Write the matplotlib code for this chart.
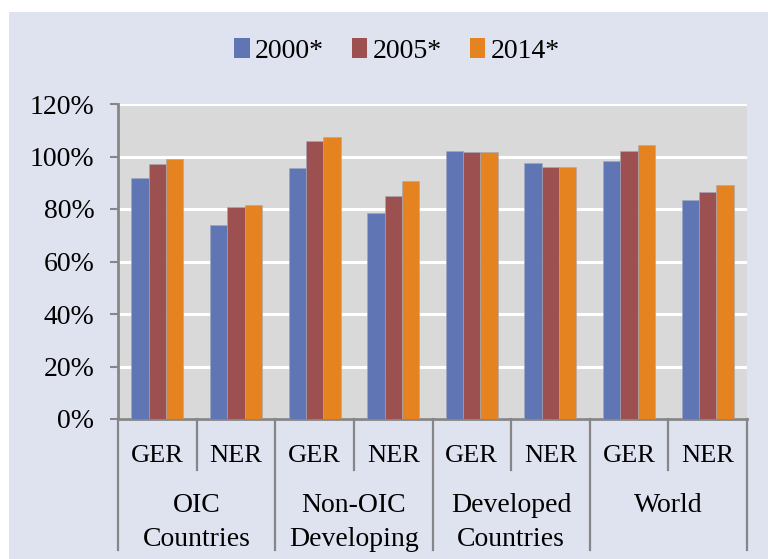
import matplotlib
matplotlib.use("Agg")
import matplotlib.pyplot as plt
from matplotlib.patches import Rectangle, Patch
import numpy as np

groups = ["OIC\nCountries", "Non-OIC\nDeveloping", "Developed\nCountries", "World"]
subcats = ["GER", "NER"] * 4
series_names = ["2000*", "2005*", "2014*"]
v2000 = [91.7, 74.0, 95.5, 78.4, 102.2, 97.4, 98.3, 83.3]
v2005 = [97.3, 80.6, 106.0, 85.0, 101.7, 95.9, 102.0, 86.6]
v2014 = [98.9, 81.5, 107.4, 90.7, 101.7, 95.9, 104.4, 89.0]
yticks = [0, 20, 40, 60, 80, 100, 120]

colors = ["#6076b4", "#9c5050", "#e58321"]
bg = "#dfe3f0"
plotbg = "#d9d9d9"
axcol = "#868686"

plt.rcParams["font.family"] = ["Liberation Serif", "DejaVu Serif"]
W, H = 768, 559
fig = plt.figure(figsize=(W / 100, H / 100), dpi=100, facecolor="white")
fig.patches.append(Rectangle((9 / W, 0), 1 - 9 / W, 1 - 12 / H, transform=fig.transFigure,
                             facecolor=bg, edgecolor="none", zorder=-10))

x0, x1, ytop, ybot = 118, 747, 104, 419
ax = fig.add_axes([x0 / W, (H - ybot) / H, (x1 - x0) / W, (ybot - ytop) / H])
ax.set_facecolor(plotbg)

n = len(subcats)
x = np.arange(n)
bw = 0.22
for i, (vals, c, name) in enumerate(zip([v2000, v2005, v2014], colors, series_names)):
    ax.bar(x + (i - 1) * bw, vals, width=bw, color=c, edgecolor="#a0a8c0", linewidth=0.4,
           label=name, zorder=3)

ax.set_xlim(-0.5, n - 0.5)
ax.set_ylim(0, 120)
ax.set_yticks(yticks)
ax.set_yticklabels([f"{t}%" for t in yticks], fontsize=20)
ax.yaxis.grid(True, color="white", linewidth=2.2, zorder=1)
ax.set_axisbelow(True)
ax.tick_params(axis="y", direction="out", length=6, width=1.5, color=axcol, pad=11)
ax.set_xticks([])
for s in ["top", "right"]:
    ax.spines[s].set_visible(False)
for s in ["left", "bottom"]:
    ax.spines[s].set_color(axcol)
    ax.spines[s].set_linewidth(2)

trans = ax.get_xaxis_transform()
axh = ybot - ytop
for k in range(n + 1):
    xb = k - 0.5
    depth = 131 if k % 2 == 0 else 51
    ax.plot([xb, xb], [0, -depth / axh], transform=trans, color=axcol, lw=1.6,
            clip_on=False, zorder=5)

for k, lab in enumerate(subcats):
    ax.text(k, -37 / axh, lab, transform=trans, ha="center", va="center", fontsize=19)
for g, lab in enumerate(groups):
    for j, line in enumerate(lab.split("\n")):
        ax.text(2 * g + 0.5, -(87 + 33 * j) / axh, line, transform=trans, ha="center",
                va="center", fontsize=20)

handles = [Patch(facecolor=c, edgecolor="none") for c in colors]
fig.legend(handles, series_names, loc="center", bbox_to_anchor=(397 / W, 1 - 51 / H),
           ncol=3, frameon=False, fontsize=20, handlelength=0.55, handleheight=0.7,
           handletextpad=0.2, columnspacing=1.0)

fig.savefig("out.png", dpi=100, facecolor=fig.get_facecolor())
